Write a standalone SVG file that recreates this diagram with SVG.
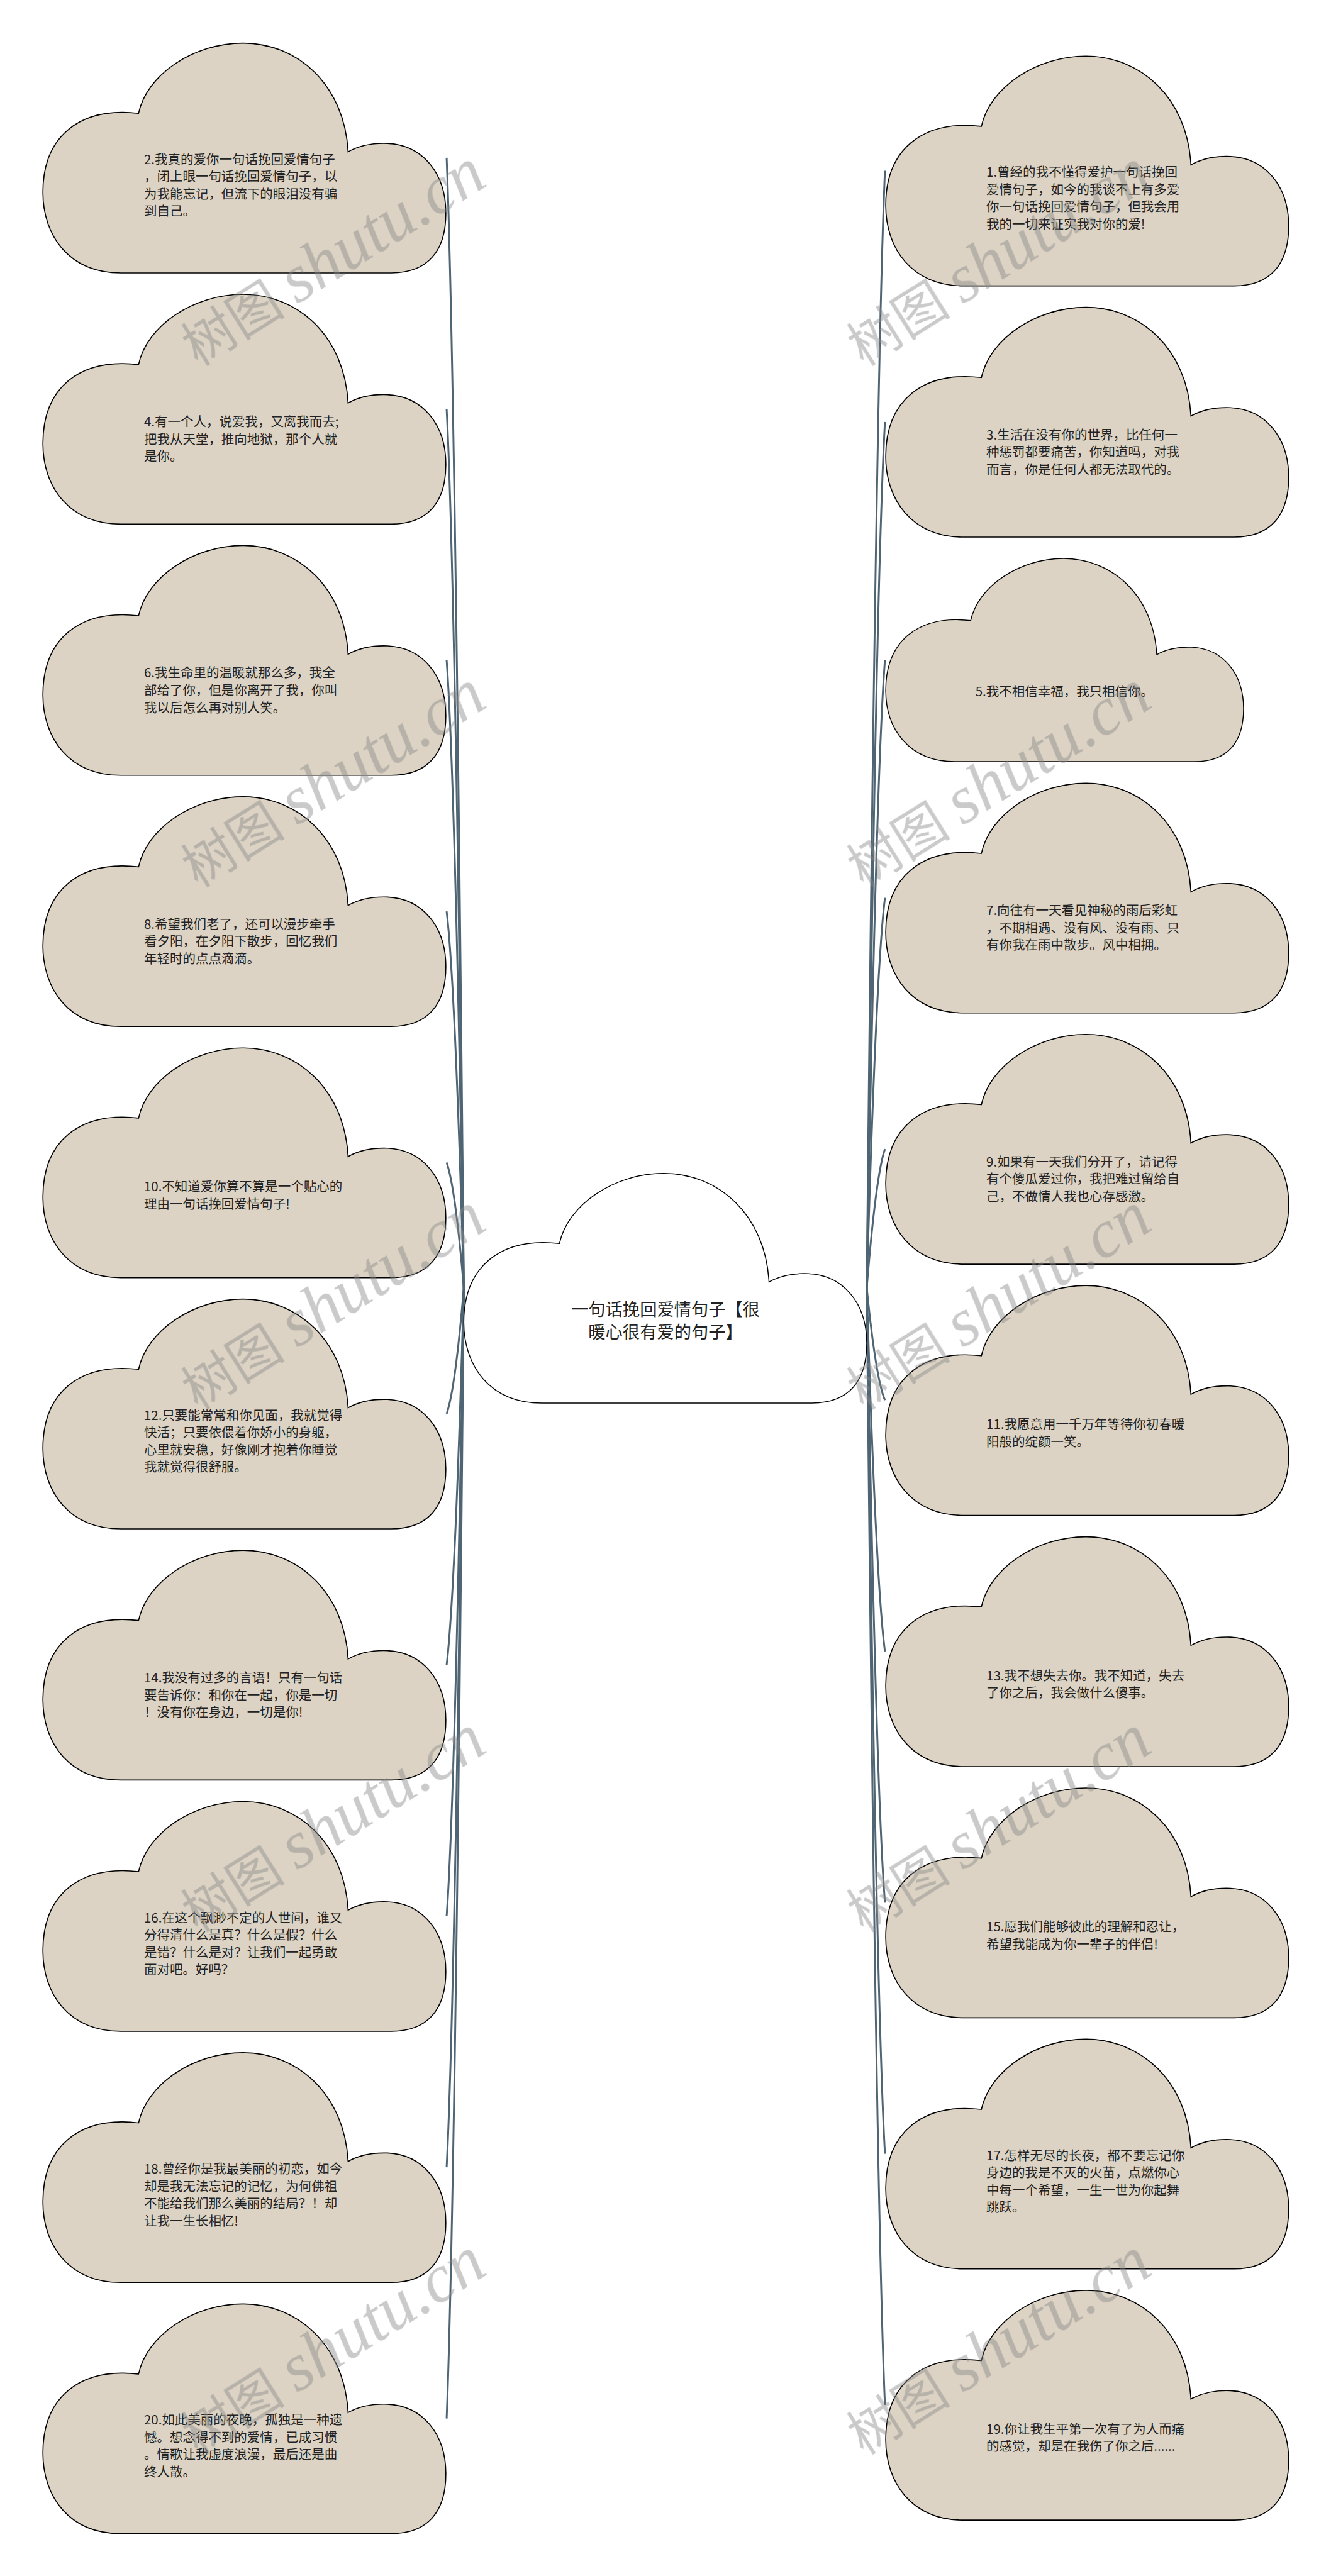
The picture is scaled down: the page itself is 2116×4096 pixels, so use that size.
<svg xmlns="http://www.w3.org/2000/svg" xmlns:xlink="http://www.w3.org/1999/xlink" width="2116" height="4096" viewBox="0 0 2116 4096">
<style>
.cl{fill:#DCD3C4;stroke:#000;stroke-width:2}
.ct{fill:#fff;stroke:#000;stroke-width:1.8}
.tx{font-family:"Noto Sans CJK SC","Noto Sans",sans-serif;font-size:24.8px;fill:#222}
.txc{font-family:"Noto Sans CJK SC","Noto Sans",sans-serif;font-size:33px;fill:#222;text-anchor:middle}
.conn path{fill:none;stroke:#4F6574;stroke-width:3.6}
.wm{fill:#8a8a8a;opacity:0.45}
.wmc{font-family:"Noto Sans CJK SC",sans-serif;font-size:100px}
.wml{font-family:"Liberation Serif",serif;font-style:italic;font-size:130px}
</style>
<defs>
<path id="cloud" d="M0,287 C0,180 70,122 184,135 C200,60 290,0 385,0 C490,0 580,80 587,209 C610,196 635,192 663,193 C730,196 775,250 775,327 C775,400 740,442 670,442 L150,442 C50,442 0,370 0,287 Z"/>
</defs>
<rect width="2116" height="4096" fill="#fff"/>
<g transform="scale(0.8266)">
<g id="connectors" class="conn">
<path d="M859,303.5 Q875.5,716.6 892,2477.5"/>
<path d="M859,786.7 Q875.5,1108 892,2477.5"/>
<path d="M859,1269.9 Q875.5,1499.3 892,2477.5"/>
<path d="M859,1753.1 Q875.5,1890.7 892,2477.5"/>
<path d="M859,2236.3 Q875.5,2282.1 892,2477.5"/>
<path d="M859,2719.5 Q875.5,2673.5 892,2477.5"/>
<path d="M859,3202.7 Q875.5,3064.9 892,2477.5"/>
<path d="M859,3685.9 Q875.5,3456.3 892,2477.5"/>
<path d="M859,4169.1 Q875.5,3847.7 892,2477.5"/>
<path d="M859,4652.3 Q875.5,4239.1 892,2477.5"/>
<path d="M1702,328.5 Q1684.5,736.8 1667,2477.5"/>
<path d="M1702,811.7 Q1684.5,1128.2 1667,2477.5"/>
<path d="M1702,1269.4 Q1684.5,1498.9 1667,2477.5"/>
<path d="M1702,1727.1 Q1684.5,1869.7 1667,2477.5"/>
<path d="M1702,2210.3 Q1684.5,2261.1 1667,2477.5"/>
<path d="M1702,2693.5 Q1684.5,2652.5 1667,2477.5"/>
<path d="M1702,3176.7 Q1684.5,3043.9 1667,2477.5"/>
<path d="M1702,3659.9 Q1684.5,3435.2 1667,2477.5"/>
<path d="M1702,4143.1 Q1684.5,3826.6 1667,2477.5"/>
<path d="M1702,4626.3 Q1684.5,4218 1667,2477.5"/>
</g>

<g id="center">
<use xlink:href="#cloud" href="#cloud" class="ct" transform="translate(892,2257)"/>
<text class="txc" x="1280" y="2530.8">一句话挽回爱情句子【很<tspan x="1280" dy="43.4">暖心很有爱的句子】</tspan></text>
</g>

<g id="n2">
<use href="#cloud" class="cl" transform="translate(82.5,83)"/>
<text class="tx" x="277" y="315.4">2.我真的爱你一句话挽回爱情句子<tspan x="277" dy="33.3">，闭上眼一句话挽回爱情句子，以</tspan><tspan x="277" dy="33.3">为我能忘记，但流下的眼泪没有骗</tspan><tspan x="277" dy="33.3">到自己。</tspan></text>
</g>
<g id="n4">
<use href="#cloud" class="cl" transform="translate(82.5,566.2)"/>
<text class="tx" x="277" y="820.3">4.有一个人，说爱我，又离我而去;<tspan x="277" dy="33.3">把我从天堂，推向地狱，那个人就</tspan><tspan x="277" dy="33.3">是你。</tspan></text>
</g>
<g id="n6">
<use href="#cloud" class="cl" transform="translate(82.5,1049.4)"/>
<text class="tx" x="277" y="1303.5">6.我生命里的温暖就那么多，我全<tspan x="277" dy="33.3">部给了你，但是你离开了我，你叫</tspan><tspan x="277" dy="33.3">我以后怎么再对别人笑。</tspan></text>
</g>
<g id="n8">
<use href="#cloud" class="cl" transform="translate(82.5,1532.6)"/>
<text class="tx" x="277" y="1786.7">8.希望我们老了，还可以漫步牵手<tspan x="277" dy="33.3">看夕阳，在夕阳下散步，回忆我们</tspan><tspan x="277" dy="33.3">年轻时的点点滴滴。</tspan></text>
</g>
<g id="n10">
<use href="#cloud" class="cl" transform="translate(82.5,2015.8)"/>
<text class="tx" x="277" y="2291.6">10.不知道爱你算不算是一个贴心的<tspan x="277" dy="33.3">理由一句话挽回爱情句子!</tspan></text>
</g>
<g id="n12">
<use href="#cloud" class="cl" transform="translate(82.5,2499)"/>
<text class="tx" x="277" y="2731.4">12.只要能常常和你见面，我就觉得<tspan x="277" dy="33.3">快活；只要依偎着你娇小的身躯，</tspan><tspan x="277" dy="33.3">心里就安稳，好像刚才抱着你睡觉</tspan><tspan x="277" dy="33.3">我就觉得很舒服。</tspan></text>
</g>
<g id="n14">
<use href="#cloud" class="cl" transform="translate(82.5,2982.2)"/>
<text class="tx" x="277" y="3236.3">14.我没有过多的言语！只有一句话<tspan x="277" dy="33.3">要告诉你：和你在一起，你是一切</tspan><tspan x="277" dy="33.3">！没有你在身边，一切是你!</tspan></text>
</g>
<g id="n16">
<use href="#cloud" class="cl" transform="translate(82.5,3465.4)"/>
<text class="tx" x="277" y="3697.8">16.在这个飘渺不定的人世间，谁又<tspan x="277" dy="33.3">分得清什么是真？什么是假？什么</tspan><tspan x="277" dy="33.3">是错？什么是对？让我们一起勇敢</tspan><tspan x="277" dy="33.3">面对吧。好吗？</tspan></text>
</g>
<g id="n18">
<use href="#cloud" class="cl" transform="translate(82.5,3948.6)"/>
<text class="tx" x="277" y="4181">18.曾经你是我最美丽的初恋，如今<tspan x="277" dy="33.3">却是我无法忘记的记忆，为何佛祖</tspan><tspan x="277" dy="33.3">不能给我们那么美丽的结局？！却</tspan><tspan x="277" dy="33.3">让我一生长相忆!</tspan></text>
</g>
<g id="n20">
<use href="#cloud" class="cl" transform="translate(82.5,4431.8)"/>
<text class="tx" x="277" y="4664.2">20.如此美丽的夜晚，孤独是一种遗<tspan x="277" dy="33.3">憾。想念得不到的爱情，已成习惯</tspan><tspan x="277" dy="33.3">。情歌让我虚度浪漫，最后还是曲</tspan><tspan x="277" dy="33.3">终人散。</tspan></text>
</g>

<g id="n1">
<use href="#cloud" class="cl" transform="translate(1703.5,108)"/>
<text class="tx" x="1897" y="340.4">1.曾经的我不懂得爱护一句话挽回<tspan x="1897" dy="33.3">爱情句子，如今的我谈不上有多爱</tspan><tspan x="1897" dy="33.3">你一句话挽回爱情句子，但我会用</tspan><tspan x="1897" dy="33.3">我的一切来证实我对你的爱!</tspan></text>
</g>
<g id="n3">
<use href="#cloud" class="cl" transform="translate(1703.5,591.2)"/>
<text class="tx" x="1897" y="845.3">3.生活在没有你的世界，比任何一<tspan x="1897" dy="33.3">种惩罚都要痛苦，你知道吗，对我</tspan><tspan x="1897" dy="33.3">而言，你是任何人都无法取代的。</tspan></text>
</g>
<g id="n5">
<use href="#cloud" class="cl" transform="translate(1703.5,1074.4) scale(0.888,0.884)"/>
<text class="tx" x="1876" y="1339.4">5.我不相信幸福，我只相信你。</text>
</g>
<g id="n7">
<use href="#cloud" class="cl" transform="translate(1703.5,1506.6)"/>
<text class="tx" x="1897" y="1760.7">7.向往有一天看见神秘的雨后彩虹<tspan x="1897" dy="33.3">，不期相遇、没有风、没有雨、只</tspan><tspan x="1897" dy="33.3">有你我在雨中散步。风中相拥。</tspan></text>
</g>
<g id="n9">
<use href="#cloud" class="cl" transform="translate(1703.5,1989.8)"/>
<text class="tx" x="1897" y="2243.9">9.如果有一天我们分开了，请记得<tspan x="1897" dy="33.3">有个傻瓜爱过你，我把难过留给自</tspan><tspan x="1897" dy="33.3">己，不做情人我也心存感激。</tspan></text>
</g>
<g id="n11">
<use href="#cloud" class="cl" transform="translate(1703.5,2473)"/>
<text class="tx" x="1897" y="2748.8">11.我愿意用一千万年等待你初春暖<tspan x="1897" dy="33.3">阳般的绽颜一笑。</tspan></text>
</g>
<g id="n13">
<use href="#cloud" class="cl" transform="translate(1703.5,2956.2)"/>
<text class="tx" x="1897" y="3232">13.我不想失去你。我不知道，失去<tspan x="1897" dy="33.3">了你之后，我会做什么傻事。</tspan></text>
</g>
<g id="n15">
<use href="#cloud" class="cl" transform="translate(1703.5,3439.4)"/>
<text class="tx" x="1897" y="3715.2">15.愿我们能够彼此的理解和忍让，<tspan x="1897" dy="33.3">希望我能成为你一辈子的伴侣!</tspan></text>
</g>
<g id="n17">
<use href="#cloud" class="cl" transform="translate(1703.5,3922.6)"/>
<text class="tx" x="1897" y="4155">17.怎样无尽的长夜，都不要忘记你<tspan x="1897" dy="33.3">身边的我是不灭的火苗，点燃你心</tspan><tspan x="1897" dy="33.3">中每一个希望，一生一世为你起舞</tspan><tspan x="1897" dy="33.3">跳跃。</tspan></text>
</g>
<g id="n19">
<use href="#cloud" class="cl" transform="translate(1703.5,4405.8)"/>
<text class="tx" x="1897" y="4681.6">19.你让我生平第一次有了为人而痛<tspan x="1897" dy="33.3">的感觉，却是在我伤了你之后......</tspan></text>
</g>

<g id="watermarks" class="wm">
<text transform="translate(380,705) rotate(-32)"><tspan class="wmc">树图</tspan><tspan class="wml" dx="25">shutu.cn</tspan></text>
<text transform="translate(380,1708) rotate(-32)"><tspan class="wmc">树图</tspan><tspan class="wml" dx="25">shutu.cn</tspan></text>
<text transform="translate(380,2713) rotate(-32)"><tspan class="wmc">树图</tspan><tspan class="wml" dx="25">shutu.cn</tspan></text>
<text transform="translate(380,3718) rotate(-32)"><tspan class="wmc">树图</tspan><tspan class="wml" dx="25">shutu.cn</tspan></text>
<text transform="translate(380,4723) rotate(-32)"><tspan class="wmc">树图</tspan><tspan class="wml" dx="25">shutu.cn</tspan></text>
<text transform="translate(1660,705) rotate(-32)"><tspan class="wmc">树图</tspan><tspan class="wml" dx="25">shutu.cn</tspan></text>
<text transform="translate(1660,1708) rotate(-32)"><tspan class="wmc">树图</tspan><tspan class="wml" dx="25">shutu.cn</tspan></text>
<text transform="translate(1660,2713) rotate(-32)"><tspan class="wmc">树图</tspan><tspan class="wml" dx="25">shutu.cn</tspan></text>
<text transform="translate(1660,3718) rotate(-32)"><tspan class="wmc">树图</tspan><tspan class="wml" dx="25">shutu.cn</tspan></text>
<text transform="translate(1660,4723) rotate(-32)"><tspan class="wmc">树图</tspan><tspan class="wml" dx="25">shutu.cn</tspan></text>
</g>
</g>
</svg>
